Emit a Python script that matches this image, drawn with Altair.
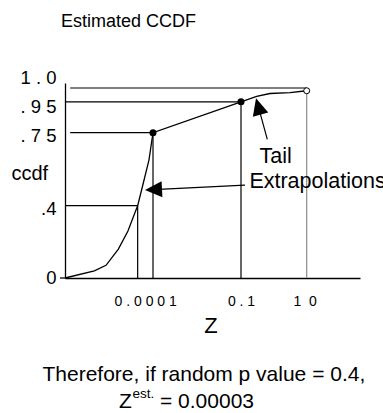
import altair as alt
import pandas as pd

# ---------------- data ----------------
curve_z = [1e-7, 1e-6, 2.5e-6, 6.6e-6, 1.4e-5, 2.4e-5, 3e-5, 4.7e-5, 7.3e-5, 1e-4]
curve_ccdf = [0.0, 0.04, 0.07, 0.16, 0.26, 0.36, 0.40, 0.51, 0.62, 0.75]
tail_z = [0.1, 0.3, 0.76, 3.1, 10]
tail_ccdf = [0.95, 0.97, 0.98, 0.983, 0.99]

knot_z = [1e-4, 0.1]
knot_ccdf = [0.75, 0.95]
end_z = [10]
end_ccdf = [0.99]

hline_ccdf = [1.0, 0.95, 0.75, 0.4]
hline_from = [1.5e-7, 1e-7, 1.5e-7, 1e-7]
hline_to = [10, 0.1, 1e-4, 3e-5]

vline_z = [3e-5, 1e-4, 0.1, 10]
vline_top = [0.4, 0.75, 0.95, 0.99]
vline_kind = ["dark", "dark", "dark", "light"]

x_ticks = [0.0001, 0.1, 10]
x_tick_labels = ["0 . 0 0 0 1", "0 . 1", "1 \u00a00"]
y_ticks = [0, 0.4, 0.75, 0.95, 1.0]
y_tick_labels = ["0\u00a0", ".4\u00a0", ". 7 5", ". 9 5", "1 . 0"]

x_knots = [1e-7, 0.1, 10, 420]
y_knots = [0, 0.4, 0.75, 0.95, 1.0, 1.02]

# annotation anchor points (data units)
arrow_from_z = [0.132, 0.632]
arrow_from_c = [0.499, 0.718]
arrow_to_z = [1.04e-4, 0.336]
arrow_to_c = [0.477, 0.92]
arrow_dir = [267, 344.6]
note_text = ["Tail", "Extrapolations"]
note_z = [0.368, 0.18]
note_c = [0.606, 0.483]

# ---------------- layout ----------------
W, H = 295, 195
FONT = "Liberation Sans"

xscale = alt.Scale(type="log", domain=x_knots, range=[0, 176, 241.7, 295],
                   nice=False, zero=False)
yscale = alt.Scale(type="linear", domain=y_knots,
                   range=[195, 122.7, 49.7, 18.8, 5, 0], nice=False, zero=False)


def lab_expr(vals, labs):
    arr = "[" + ",".join("'" + s + "'" for s in labs) + "]"
    v = "[" + ",".join(repr(x) for x in vals) + "]"
    return arr + "[indexof(" + v + ", datum.value)]"


xaxis = alt.Axis(
    values=x_ticks, labelExpr=lab_expr(x_ticks, x_tick_labels), title="Z",
    grid=False, ticks=False, tickSize=0, domainColor="black", domainWidth=1.3,
    labelFont=FONT, labelFontSize=14, labelColor="black", labelPadding=27,
    labelBaseline="alphabetic", labelAlign="center", labelFlush=False,
    labelOverlap=False,
    labelOffset={"condition": [{"test": "datum.value < 0.001", "value": -7.8},
                               {"test": "datum.value > 1", "value": -2}],
                 "value": 0},
    titleFont=FONT, titleFontSize=22, titleFontWeight="normal", titleColor="black",
    titleX=145.5, titleY=54, titleAlign="center", titleBaseline="alphabetic",
)
yaxis = alt.Axis(
    values=y_ticks, labelExpr=lab_expr(y_ticks, y_tick_labels), title="ccdf",
    grid=False, ticks=False, tickSize=0, domainColor="black", domainWidth=1.3,
    labelFont=FONT, labelFontSize=18.5, labelColor="black", labelPadding=9,
    labelBaseline="alphabetic", labelFlush=False, labelOverlap=False,
    labelOffset={"condition": [{"test": "datum.value == 1", "value": -4.5},
                               {"test": "datum.value == 0.95", "value": 10.2},
                               {"test": "datum.value == 0.75", "value": 9},
                               {"test": "datum.value == 0.4", "value": 8.8}],
                 "value": 5.6},
    titleFont=FONT, titleFontSize=20, titleFontWeight="normal", titleColor="black",
    titleAngle=0, titleX=-54, titleY=96.3, titleAlign="left",
    titleBaseline="alphabetic",
)


def X(f):
    return alt.X(f, type="quantitative", scale=xscale, axis=xaxis)


def Y(f):
    return alt.Y(f, type="quantitative", scale=yscale, axis=yaxis)


line_df = pd.DataFrame({"z": curve_z + tail_z, "c": curve_ccdf + tail_ccdf})
knot_df = pd.DataFrame({"z": knot_z, "c": knot_ccdf})
end_df = pd.DataFrame({"z": end_z, "c": end_ccdf})
h_df = pd.DataFrame({"c": hline_ccdf, "z0": hline_from, "z1": hline_to})
v_df = pd.DataFrame({"z": vline_z, "c0": [0] * len(vline_z), "c1": vline_top,
                     "kind": vline_kind})
arrow_df = pd.DataFrame({"z": arrow_from_z, "c": arrow_from_c,
                         "z2": arrow_to_z, "c2": arrow_to_c, "ang": arrow_dir})
note_df = pd.DataFrame({"z": note_z, "c": note_c, "t": note_text})
one = pd.DataFrame({"_": [0]})

hrules = alt.Chart(h_df).mark_rule(color="black", strokeWidth=1.2).encode(
    x=X("z0"), x2="z1", y=Y("c"))
vrules = alt.Chart(v_df).mark_rule(strokeWidth=1.2).encode(
    x=X("z"), y=Y("c0"), y2="c1",
    color=alt.condition("datum.kind == 'light'", alt.value("#8a8a8a"), alt.value("black")))
curve = alt.Chart(line_df).mark_line(color="black", strokeWidth=1.3).encode(
    x=X("z"), y=Y("c"), order="z:Q")
knots = alt.Chart(knot_df).mark_point(shape="circle", filled=True, size=50,
                                      color="black", opacity=1).encode(x=X("z"), y=Y("c"))
endpt = alt.Chart(end_df).mark_point(shape="circle", filled=False, size=36,
                                     color="black", fill="white", fillOpacity=1,
                                     strokeWidth=1, opacity=1).encode(x=X("z"), y=Y("c"))
shafts = alt.Chart(arrow_df).mark_rule(color="black", strokeWidth=1.2).encode(
    x=X("z"), y=Y("c"), x2="z2", y2="c2")
heads = alt.Chart(arrow_df).mark_point(
    shape="M0,-1L0.94,1L-0.94,1Z", filled=True, size=289, color="black", opacity=1
).encode(x=X("z2"), y=Y("c2"), angle=alt.Angle("ang:Q", scale=None))
notes = alt.Chart(note_df).mark_text(font=FONT, fontSize=21.5, align="left",
                                     baseline="alphabetic", color="black").encode(
    x=X("z"), y=Y("c"), text="t:N")

ext = alt.Chart(one).mark_rule(color="black", strokeWidth=1.3).encode(
    x=alt.value(-5), x2=alt.value(0), y=alt.value(195))


def label(txt, x, y, size, align="left"):
    return alt.Chart(one).mark_text(font=FONT, fontSize=size, align=align,
                                    baseline="alphabetic", color="black").encode(
        x=alt.value(x), y=alt.value(y), text=alt.value(txt))


title = label("Estimated CCDF", -4, -56, 18)
line1 = label("Therefore, if random p value = 0.4,", -22.5, 298, 21)
line2a = label("Z", 54, 325, 21)
line2b = label("est.", 67.5, 314.5, 13.5)
line2c = label("= 0.00003", 95, 325, 21)

chart = alt.layer(
    hrules, vrules, curve, shafts, heads, knots, endpt, notes, ext,
    title, line1, line2a, line2b, line2c
).properties(
    width=W, height=H,
    autosize=alt.AutoSizeParams(type="none"),
    padding={"left": 65, "top": 83, "right": 23, "bottom": 135},
    background="white",
).configure_view(stroke=None)

chart.save("out.html", embed_options={"renderer": "svg", "actions": False})
